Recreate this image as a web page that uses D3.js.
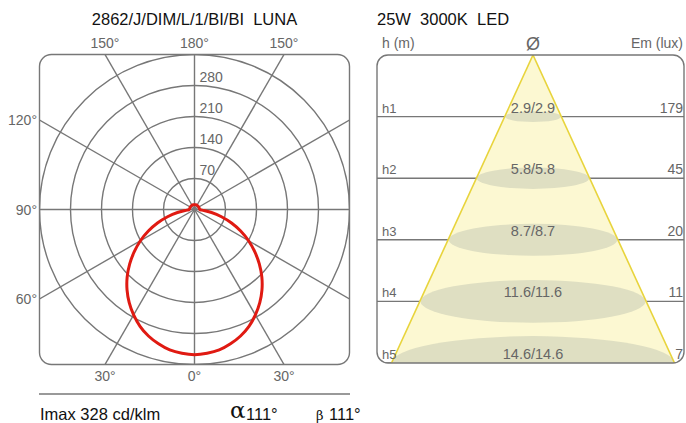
<!DOCTYPE html>
<html>
<head>
<meta charset="utf-8">
<script src="https://cdn.jsdelivr.net/npm/d3@7"></script>
<style>
  body { margin: 0; background: #fff; }
  svg { font-family: "Liberation Sans", Arial, sans-serif; }
</style>
</head>
<body>
<svg id="chart" width="686" height="423"></svg>
<script>
// photometric curve, C0-C180 plane (cd/klm), symmetric
const gammaDeg = [0, 5, 10, 15, 20, 25, 30, 35, 40, 45, 50, 55, 60, 65, 70, 75, 80, 85, 90, 105, 120, 135, 150, 165, 180];
const intensity = [328, 326, 322, 314, 304, 291, 275, 257, 237, 215, 191, 166, 141, 115, 89, 63, 39, 17, 12, 11, 11, 11, 11, 11, 11];
const ringValues = [70, 140, 210, 280, 350];
const ringLabels = [70, 140, 210, 280];
const spokeAngles = [0, 30, 60, 90, 120, 150, 180];

// cone diagram
const heightLabels = ["h1", "h2", "h3", "h4", "h5"];
const diameters = [2.9, 5.8, 8.7, 11.6, 14.6];
const illuminance = [179, 45, 20, 11, 7];

const grey = "#777";
const textGrey = "#666";

const svg = d3.select("#chart");

// ---------- left: polar diagram ----------
const cx = 194.5, cy = 209.5, half = 155;
const rScale = d3.scaleLinear().domain([0, 350]).range([0, half]);

svg.append("text")
  .attr("x", cx).attr("y", 25)
  .attr("text-anchor", "middle")
  .attr("font-size", 16.5)
  .attr("fill", "#111")
  .text("2862/J/DIM/L/1/BI/BI\u00a0\u00a0LUNA");

svg.append("clipPath").attr("id", "polarClip")
  .append("rect")
  .attr("x", cx - half).attr("y", cy - half)
  .attr("width", half * 2).attr("height", half * 2)
  .attr("rx", 12);

const polar = svg.append("g").attr("clip-path", "url(#polarClip)");

// rings
polar.selectAll(".ring")
  .data(ringValues)
  .enter()
  .append("circle")
  .attr("class", "ring")
  .attr("cx", cx).attr("cy", cy)
  .attr("r", d => rScale(d))
  .attr("fill", "none")
  .attr("stroke", grey)
  .attr("stroke-width", 1.4);

// spokes, both sides of the nadir
const spokes = [];
spokeAngles.forEach(a => {
  spokes.push(a);
  if (a > 0 && a < 180) spokes.push(-a);
});
polar.selectAll(".spoke")
  .data(spokes)
  .enter()
  .append("line")
  .attr("class", "spoke")
  .attr("x1", cx).attr("y1", cy)
  .attr("x2", d => cx + 300 * Math.sin(d * Math.PI / 180))
  .attr("y2", d => cy + 300 * Math.cos(d * Math.PI / 180))
  .attr("stroke", grey)
  .attr("stroke-width", 1.4);

// intensity curve
const pts = [];
gammaDeg.forEach((g, i) => pts.push([Math.PI - g * Math.PI / 180, rScale(intensity[i])]));
for (let i = gammaDeg.length - 2; i > 0; i--) {
  pts.push([Math.PI + gammaDeg[i] * Math.PI / 180, rScale(intensity[i])]);
}
const curve = d3.lineRadial()
  .angle(d => d[0])
  .radius(d => d[1])
  .curve(d3.curveCatmullRomClosed);

polar.append("path")
  .attr("transform", "translate(" + cx + "," + cy + ")")
  .attr("d", curve(pts))
  .attr("fill", "none")
  .attr("stroke", "#e01a12")
  .attr("stroke-width", 3);

svg.append("rect")
  .attr("x", cx - half).attr("y", cy - half)
  .attr("width", half * 2).attr("height", half * 2)
  .attr("rx", 12)
  .attr("fill", "none")
  .attr("stroke", grey)
  .attr("stroke-width", 1.4);

// ring values along the 180 spoke
svg.selectAll(".ringLabel")
  .data(ringLabels)
  .enter()
  .append("text")
  .attr("class", "ringLabel")
  .attr("x", cx + 5)
  .attr("y", d => cy - rScale(d) - 4)
  .attr("font-size", 14)
  .attr("fill", textGrey)
  .text(d => d);

// angle labels where the spokes meet the frame
const angleLabels = [];
spokes.forEach(a => {
  const s = Math.sin(a * Math.PI / 180), c = Math.cos(a * Math.PI / 180);
  const t = half / Math.max(Math.abs(s), Math.abs(c));
  if (Math.abs(c) >= Math.abs(s) - 1e-6) {
    angleLabels.push({ t: Math.abs(a) + "°", x: cx + t * s, y: c > 0 ? 381 : 48, anchor: "middle" });
  } else if (s < 0) {
    angleLabels.push({ t: Math.abs(a) + "°", x: 37, y: cy + t * c + 5, anchor: "end" });
  }
});
svg.selectAll(".angleLabel")
  .data(angleLabels)
  .enter()
  .append("text")
  .attr("class", "angleLabel")
  .attr("x", d => d.x).attr("y", d => d.y)
  .attr("text-anchor", d => d.anchor)
  .attr("font-size", 14)
  .attr("fill", textGrey)
  .text(d => d.t);

// footer
svg.append("line")
  .attr("x1", 39).attr("x2", 350)
  .attr("y1", 394).attr("y2", 394)
  .attr("stroke", grey).attr("stroke-width", 1.4);

svg.append("text")
  .attr("x", 40).attr("y", 420)
  .attr("font-size", 16.5).attr("fill", "#111")
  .text("Imax 328 cd/klm");
svg.append("text")
  .attr("x", 230).attr("y", 418)
  .attr("font-family", "'DejaVu Serif', serif")
  .attr("font-size", 23).attr("fill", "#111")
  .text("α");
svg.append("text")
  .attr("x", 246).attr("y", 420)
  .attr("font-size", 16.5).attr("fill", "#111")
  .text("111°");
svg.append("text")
  .attr("x", 316).attr("y", 420)
  .attr("font-family", "'DejaVu Serif', serif")
  .attr("font-size", 13).attr("fill", "#111")
  .text("β");
svg.append("text")
  .attr("x", 329).attr("y", 420)
  .attr("font-size", 16.5).attr("fill", "#111")
  .text("111°");

// ---------- right: illuminance cone ----------
const px0 = 377, px1 = 684, py0 = 55, py1 = 363, apexX = 533;
const yScale = d3.scaleLinear().domain([0, heightLabels.length]).range([py0, py1]);
const wScale = d3.scaleLinear().domain([0, d3.max(diameters)]).range([0, 283]);

svg.append("text")
  .attr("x", 377).attr("y", 25)
  .attr("font-size", 16.5).attr("fill", "#111")
  .text("25W\u00a0\u00a03000K\u00a0\u00a0LED");
svg.append("text")
  .attr("x", 382).attr("y", 48)
  .attr("font-size", 14).attr("fill", textGrey)
  .text("h (m)");
svg.append("text")
  .attr("x", 683).attr("y", 48)
  .attr("text-anchor", "end")
  .attr("font-size", 14).attr("fill", textGrey)
  .text("Em (lux)");
svg.append("text")
  .attr("x", apexX).attr("y", 50)
  .attr("text-anchor", "middle")
  .attr("font-size", 18).attr("fill", textGrey)
  .text("Ø");

svg.append("clipPath").attr("id", "panelClip")
  .append("rect")
  .attr("x", px0).attr("y", py0)
  .attr("width", px1 - px0).attr("height", py1 - py0)
  .attr("rx", 11);

const panel = svg.append("g").attr("clip-path", "url(#panelClip)");

panel.selectAll(".hline")
  .data(heightLabels)
  .enter()
  .append("line")
  .attr("class", "hline")
  .attr("x1", px0).attr("x2", px1)
  .attr("y1", (d, i) => yScale(i + 1))
  .attr("y2", (d, i) => yScale(i + 1))
  .attr("stroke", grey).attr("stroke-width", 1.4);

const baseHalf = wScale(d3.max(diameters)) / 2;
const conePts = [[apexX, py0], [apexX - baseHalf, py1], [apexX + baseHalf, py1]];

panel.append("polygon")
  .attr("points", conePts.join(" "))
  .attr("fill", "#fcf8d2");

svg.append("clipPath").attr("id", "coneClip")
  .append("polygon")
  .attr("points", conePts.join(" "));

const spots = panel.append("g").attr("clip-path", "url(#coneClip)");
spots.selectAll(".spot")
  .data(diameters)
  .enter()
  .append("ellipse")
  .attr("class", "spot")
  .attr("cx", apexX)
  .attr("cy", (d, i) => yScale(i + 1))
  .attr("rx", d => wScale(d) / 2)
  .attr("ry", d => wScale(d) / 2 * 0.19)
  .attr("fill", "#dfdfc2");

// cone edges
panel.selectAll(".coneEdge")
  .data([conePts[1], conePts[2]])
  .enter()
  .append("line")
  .attr("class", "coneEdge")
  .attr("x1", apexX).attr("y1", py0)
  .attr("x2", d => d[0]).attr("y2", d => d[1])
  .attr("stroke", "#e8d43c")
  .attr("stroke-width", 1.6);

svg.append("rect")
  .attr("x", px0).attr("y", py0)
  .attr("width", px1 - px0).attr("height", py1 - py0)
  .attr("rx", 11)
  .attr("fill", "none")
  .attr("stroke", grey)
  .attr("stroke-width", 1.4);

svg.selectAll(".hLabel")
  .data(heightLabels)
  .enter()
  .append("text")
  .attr("class", "hLabel")
  .attr("x", 382)
  .attr("y", (d, i) => yScale(i + 1) - 4)
  .attr("font-size", 13).attr("fill", textGrey)
  .text(d => d);

svg.selectAll(".dLabel")
  .data(diameters)
  .enter()
  .append("text")
  .attr("class", "dLabel")
  .attr("x", apexX)
  .attr("y", (d, i) => yScale(i + 1) - 4)
  .attr("text-anchor", "middle")
  .attr("font-size", 14.5).attr("fill", textGrey)
  .text(d => d.toFixed(1) + "/" + d.toFixed(1));

svg.selectAll(".emLabel")
  .data(illuminance)
  .enter()
  .append("text")
  .attr("class", "emLabel")
  .attr("x", 683)
  .attr("y", (d, i) => yScale(i + 1) - 4)
  .attr("text-anchor", "end")
  .attr("font-size", 14).attr("fill", textGrey)
  .text(d => d);
</script>
</body>
</html>
